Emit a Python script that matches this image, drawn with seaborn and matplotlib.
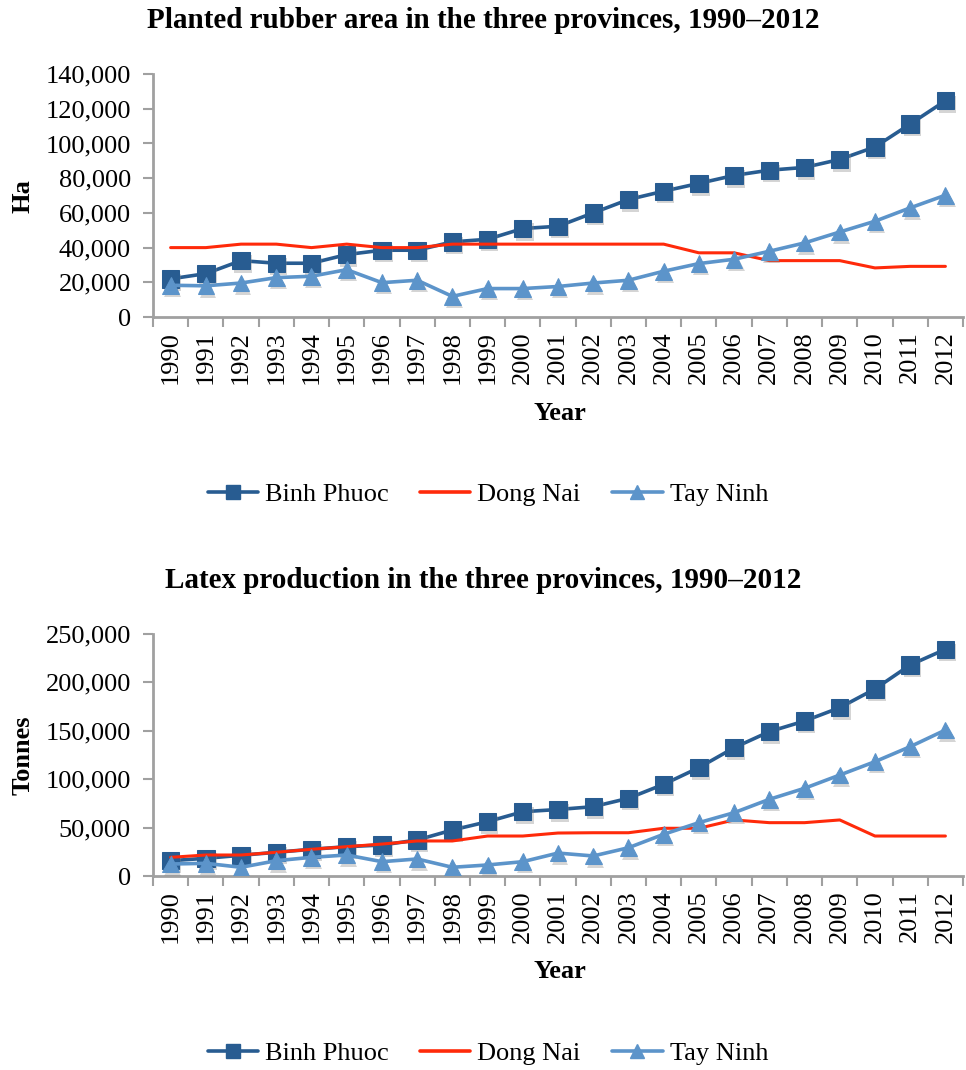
import numpy as np
import pandas as pd
import matplotlib
matplotlib.use("Agg")
import matplotlib.pyplot as plt
import matplotlib.patheffects as pe
from matplotlib.ticker import FuncFormatter, MultipleLocator, FixedLocator
import seaborn as sns

years = list(range(1990, 2013))
provinces = ["Binh Phuoc", "Dong Nai", "Tay Ninh"]

# Planted rubber area (ha)
area_binh_phuoc = [22000, 25000, 32500, 31000, 31000, 36000, 38500, 38500, 43300, 44800,
                   51000, 52300, 60000, 67700, 72500, 77000, 81600, 84600, 86200, 90800,
                   98000, 111200, 124600]
area_dong_nai = [40000, 40000, 42000, 42000, 40000, 42000, 40000, 40000, 42000, 42000,
                 42000, 42000, 42000, 42000, 42000, 37000, 37000, 32500, 32500, 32500,
                 28300, 29200, 29200]
area_tay_ninh = [18300, 18000, 19600, 22700, 23500, 27300, 19800, 21200, 11900, 16400,
                 16400, 17600, 19600, 21200, 26400, 30800, 33300, 37900, 42700, 49000,
                 55200, 62900, 70200]

# Latex production (tonnes)
latex_binh_phuoc = [15800, 18300, 21400, 24500, 27600, 30300, 32000, 37200, 47500, 56100,
                    66400, 68700, 71600, 80300, 94700, 111900, 132500, 149100, 160100, 173900,
                    193200, 218000, 234200]
latex_dong_nai = [19300, 21700, 21700, 24500, 27600, 30300, 33000, 36200, 36200, 41300,
                  41300, 44400, 44700, 44700, 49300, 49300, 57900, 55100, 55100, 57900,
                  41300, 41300, 41300]
latex_tay_ninh = [12400, 13100, 9000, 15800, 19300, 21700, 14800, 17600, 9000, 11400,
                  14800, 23700, 20700, 29200, 43100, 55100, 65400, 79200, 90600, 104300,
                  118100, 133600, 150800]

colors = {"Binh Phuoc": "#285c91", "Dong Nai": "#ff2a0a", "Tay Ninh": "#5c94ca"}
markers = {"Binh Phuoc": "s", "Dong Nai": None, "Tay Ninh": "^"}
msizes = {"Binh Phuoc": 12.5, "Dong Nai": 0, "Tay Ninh": 12}
layers = {"Binh Phuoc": 2, "Dong Nai": 3, "Tay Ninh": 4}

sns.set_theme(style="white")
plt.rcParams["font.family"] = ["Liberation Serif", "DejaVu Serif"]
plt.rcParams["text.color"] = "black"
plt.rcParams["xtick.color"] = "black"
plt.rcParams["ytick.color"] = "black"
plt.rcParams["axes.labelcolor"] = "black"
AX_GREY = "#a0a0a0"
FS = 19

fig = plt.figure(figsize=(9.66, 10.7), dpi=100)

def frame(values_by_prov, value_name):
    rows = []
    for p, vals in values_by_prov.items():
        for y, v in zip(years, vals):
            rows.append({"Year": y, "Province": p, value_name: v})
    return pd.DataFrame(rows)

def draw_panel(rect, df, value_name, ymax, ystep, ylabel, title, title_y,
               ylabel_y, xlabel_y, legend_y):
    ax = fig.add_axes(rect)
    shadow = [pe.SimplePatchShadow(offset=(1.5, -2.5), shadow_rgbFace="#888888", alpha=0.35),
              pe.Normal()]
    for p in provinces:
        sub = df[df["Province"] == p]
        lw = 2.6 if p != "Dong Nai" else 2.2
        sns.lineplot(data=sub, x="Year", y=value_name, ax=ax, color=colors[p],
                     linewidth=lw, legend=False, zorder=layers[p])
        if markers[p]:
            sns.lineplot(data=sub, x="Year", y=value_name, ax=ax, color=colors[p],
                         linestyle="", marker=markers[p], markersize=msizes[p],
                         markeredgecolor=colors[p], markerfacecolor=colors[p],
                         legend=False, zorder=layers[p] + 0.1)
            ax.lines[-1].set_path_effects(shadow)
    ax.set_xlim(years[0] - 0.5, years[-1] + 0.5)
    ax.set_ylim(0, ymax)
    ax.yaxis.set_major_locator(MultipleLocator(ystep))
    ax.yaxis.set_major_formatter(FuncFormatter(lambda v, _: f"{int(v):,}"))
    ax.xaxis.set_major_locator(FixedLocator(years))
    ax.set_xticklabels([str(y) for y in years], rotation=90)
    ax.xaxis.set_minor_locator(FixedLocator(np.arange(years[0] - 0.5, years[-1] + 1.0, 1.0)))
    ax.tick_params(axis="x", which="major", length=0, pad=10, labelsize=FS)
    ax.tick_params(axis="x", which="minor", length=7, width=1.5, color=AX_GREY,
                   direction="out", bottom=True)
    ax.tick_params(axis="y", length=7, width=1.5, color=AX_GREY, direction="out",
                   left=True, labelsize=FS, pad=9)
    for s in ["top", "right"]:
        ax.spines[s].set_visible(False)
    for s in ["left", "bottom"]:
        ax.spines[s].set_color(AX_GREY)
        ax.spines[s].set_linewidth(2)
    ax.set_xlabel("")
    ax.set_ylabel("")
    ax.grid(False)
    fig.text(0.5, title_y, title, ha="center", va="center", fontsize=21,
             fontweight="bold")
    fig.text(0.024, ylabel_y, ylabel, ha="center", va="center", rotation=90,
             fontsize=FS, fontweight="bold")
    fig.text(0.58, xlabel_y, "Year", ha="center", va="center", fontsize=FS,
             fontweight="bold")
    handles = []
    for p in provinces:
        h = plt.Line2D([], [], color=colors[p], linewidth=2.6,
                       marker=markers[p] if markers[p] else None,
                       markersize=10, markerfacecolor=colors[p],
                       markeredgecolor=colors[p])
        handles.append(h)
    fig.legend(handles, provinces, loc="center", bbox_to_anchor=(0.505, legend_y),
               ncol=3, frameon=False, fontsize=FS, handlelength=1.9,
               handletextpad=0.27, columnspacing=1.2)
    return ax

area_df = frame({"Binh Phuoc": area_binh_phuoc, "Dong Nai": area_dong_nai,
                 "Tay Ninh": area_tay_ninh}, "Area")
latex_df = frame({"Binh Phuoc": latex_binh_phuoc, "Dong Nai": latex_dong_nai,
                  "Tay Ninh": latex_tay_ninh}, "Latex")

draw_panel([0.1584, 0.7037, 0.8385, 0.2271], area_df, "Area", 140000, 20000, "Ha",
           "Planted rubber area in the three provinces, 1990\u20132012",
           1 - 20 / 1070, 1 - 196 / 1070, 1 - 413 / 1070, 1 - 494 / 1070)
draw_panel([0.1584, 0.1813, 0.8385, 0.2262], latex_df, "Latex", 250000, 50000, "Tonnes",
           "Latex production in the three provinces, 1990\u20132012",
           1 - 580 / 1070, 1 - 755 / 1070, 1 - 972 / 1070, 1 - 1053 / 1070)

fig.savefig("out.png", dpi=100, facecolor="white")
